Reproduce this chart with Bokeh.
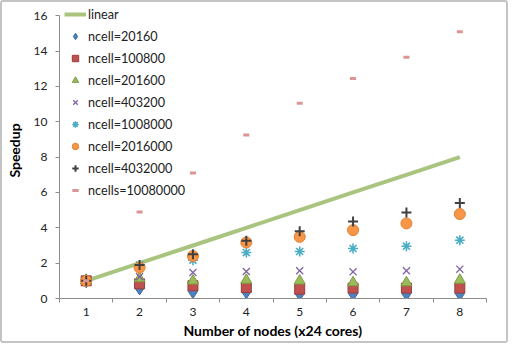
from bokeh.plotting import figure
from bokeh.models import Range1d, FixedTicker, Legend, LegendItem, InlineStyleSheet
from bokeh.embed import file_html
from bokeh.resources import INLINE

nodes = [1, 2, 3, 4, 5, 6, 7, 8]
linear = [1, 2, 3, 4, 5, 6, 7, 8]
ncell_20160 = [1.0, 0.60, 0.40, 0.38, 0.28, 0.28, 0.28, 0.28]
ncell_100800 = [1.0, 0.83, 0.72, 0.62, 0.53, 0.59, 0.59, 0.59]
ncell_201600 = [1.0, 1.13, 1.0, 1.04, 1.0, 0.90, 0.90, 1.04]
ncell_403200 = [1.0, 1.23, 1.47, 1.53, 1.57, 1.51, 1.57, 1.66]
ncell_1008000 = [1.0, 1.90, 2.17, 2.60, 2.66, 2.83, 2.96, 3.30]
ncell_2016000 = [1.0, 1.75, 2.40, 3.17, 3.49, 3.87, 4.25, 4.78]
ncell_4032000 = [1.0, 1.89, 2.50, 3.27, 3.80, 4.36, 4.87, 5.40]
ncells_10080000 = [1.0, 4.9, 7.1, 9.25, 11.05, 12.45, 13.65, 15.1]
y_ticks = [0, 2, 4, 6, 8, 10, 12, 14, 16]

FONT = "Lato"

p = figure(width=508, height=343, output_backend="svg", toolbar_location=None,
           x_range=Range1d(0.5, 8.5), y_range=Range1d(0, 16.75),
           min_border_left=43, min_border_right=24, min_border_top=0, min_border_bottom=47)
p.stylesheets = [InlineStyleSheet(css=":host { border: 2px solid #c4c4c4; border-radius: 3px; }")]
p.outline_line_color = None
p.grid.visible = False
p.background_fill_color = "white"
p.border_fill_color = "white"

r_lin = p.line(nodes, linear, line_color="#a9c47f", line_width=4)
r1 = p.scatter(nodes, ncell_20160, marker="diamond", size=14, fill_color="#4f81bd", line_color="#3a6aa3")
r2 = p.scatter(nodes, ncell_100800, marker="square", size=10, fill_color="#c0504d", line_color="#9c3c3a")
r3 = p.scatter(nodes, ncell_201600, marker="triangle", size=11, fill_color="#9bbb59", line_color="#7d9c45")
r4 = p.scatter(nodes, ncell_403200, marker="x", size=10, line_color="#8064a2", line_width=1.3)
r5 = p.scatter(nodes, ncell_1008000, marker="asterisk", size=10, line_color="#4bacc6", line_width=1.6)
r6 = p.scatter(nodes, ncell_2016000, marker="circle", size=11, fill_color="#f79646", line_color="#e07f30")
r7 = p.scatter(nodes, ncell_4032000, marker="cross", size=10, line_color="#404040", line_width=2)
r8 = p.scatter(nodes, ncells_10080000, marker="dash", size=6, line_color="#d99694", line_width=3)

items = [("linear", r_lin), ("ncell=20160", r1), ("ncell=100800", r2), ("ncell=201600", r3),
         ("ncell=403200", r4), ("ncell=1008000", r5), ("ncell=2016000", r6),
         ("ncell=4032000", r7), ("ncells=10080000", r8)]
legend = Legend(items=[LegendItem(label=l, renderers=[r]) for l, r in items],
                location=(5, 100), border_line_color=None, background_fill_alpha=0,
                label_text_font=FONT, label_text_font_size="9.5pt", label_text_color="#222222",
                glyph_width=22, glyph_height=16, label_height=16, spacing=6,
                padding=0, margin=0, label_standoff=2)
p.add_layout(legend)

p.xaxis.ticker = FixedTicker(ticks=nodes, minor_ticks=[0.5 + i for i in range(9)])
p.xaxis.major_tick_out = 0
p.xaxis.major_tick_in = 0
p.xaxis.minor_tick_out = 4
p.xaxis.minor_tick_in = 0
p.yaxis.ticker = FixedTicker(ticks=y_ticks, minor_ticks=[])
p.yaxis.bounds = (0, 16)
p.yaxis.major_tick_out = 4
p.yaxis.major_tick_in = 0
for ax in (p.xaxis, p.yaxis):
    ax.axis_line_color = "#8c8c8c"
    ax.major_tick_line_color = "#8c8c8c"
    ax.minor_tick_line_color = "#8c8c8c"
    ax.major_label_text_font = FONT
    ax.major_label_text_font_size = "9pt"
    ax.major_label_text_color = "#222222"
    ax.axis_label_text_font = FONT
    ax.axis_label_text_font_size = "10.5pt"
    ax.axis_label_text_font_style = "bold"
    ax.axis_label_text_color = "#000000"
p.xaxis.axis_label = "Number of nodes (x24 cores)"
p.yaxis.axis_label = "Speedup"
p.xaxis.major_label_standoff = 5
p.yaxis.major_label_standoff = 8
p.xaxis.axis_label_standoff = 3
p.yaxis.axis_label_standoff = 8

open("out.html", "w").write(file_html(p, INLINE))
